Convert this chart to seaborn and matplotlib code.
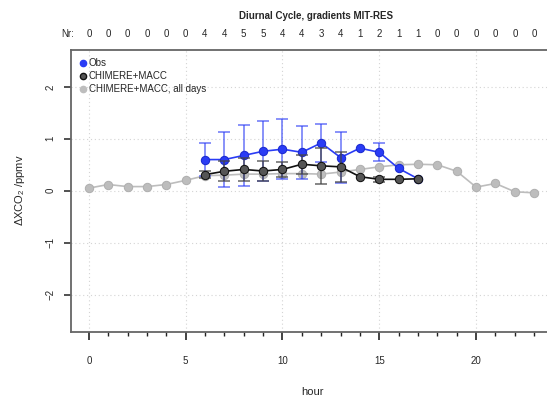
import numpy as np
import pandas as pd
import matplotlib
matplotlib.use("Agg")
import matplotlib.pyplot as plt
import matplotlib.transforms as mtransforms
from matplotlib.lines import Line2D
import seaborn as sns

# ---- data ----
hours_all = list(range(24))
nr_counts = [0, 0, 0, 0, 0, 0, 4, 4, 5, 5, 4, 4, 3, 4, 1, 2, 1, 1, 0, 0, 0, 0, 0, 0]
alldays_vals = [0.05, 0.12, 0.08, 0.08, 0.12, 0.20, 0.29, 0.30, 0.32, 0.32, 0.33, 0.33,
                0.32, 0.36, 0.41, 0.46, 0.50, 0.51, 0.50, 0.375, 0.07, 0.14, -0.02, -0.04]

hours_obs = list(range(6, 18))
obs_vals = [0.60, 0.60, 0.68, 0.76, 0.80, 0.74, 0.92, 0.64, 0.82, 0.74, 0.43, 0.23]
obs_err = [0.32, 0.53, 0.58, 0.58, 0.575, 0.51, 0.36, 0.50, 0.0, 0.17, 0.0, 0.0]

model_vals = [0.31, 0.375, 0.41, 0.38, 0.41, 0.51, 0.48, 0.46, 0.27, 0.22, 0.22, 0.23]
model_err = [0.065, 0.19, 0.22, 0.20, 0.14, 0.18, 0.35, 0.29, 0.0, 0.05, 0.0, 0.0]

series_names = ["Obs", "CHIMERE+MACC", "CHIMERE+MACC, all days"]
title = "Diurnal Cycle, gradients MIT-RES"
xlabel = "hour"
ylabel = r"$\Delta$XCO$_2$ /ppmv"

# ---- style ----
sns.set_style("white")
plt.rcParams["font.family"] = ["Liberation Sans", "DejaVu Sans"]
plt.rcParams["mathtext.fontset"] = "custom"
plt.rcParams["mathtext.rm"] = "Liberation Sans"
plt.rcParams["mathtext.it"] = "Liberation Sans"

fig = plt.figure(figsize=(5.47, 4.03), dpi=100)
ax = fig.add_axes([71 / 547, 1 - 332 / 403, (552 - 71) / 547, (332 - 50) / 403])

blue = "#2a3cf5"
gray = "#bdbdbd"

df_all = pd.DataFrame({"hour": hours_all, "val": alldays_vals})
df_obs = pd.DataFrame({"hour": hours_obs, "val": obs_vals, "err": obs_err})
df_mod = pd.DataFrame({"hour": hours_obs, "val": model_vals, "err": model_err})

# grid
for gx in [0, 5, 10, 15, 20]:
    ax.axvline(gx, color="#d4d4d4", lw=0.8, ls=(0, (1, 2.5)), zorder=0)
for gy in [-2, -1, 0, 1, 2]:
    ax.axhline(gy, color="#d4d4d4", lw=0.8, ls=(0, (1, 2.5)), zorder=0)

# all days
sns.lineplot(data=df_all, x="hour", y="val", ax=ax, color=gray, lw=1.2,
             marker="o", markersize=6, markerfacecolor=gray, markeredgecolor="#b0b0b0",
             zorder=2, legend=False)

# obs
m = df_obs["err"] > 0
ax.errorbar(df_obs["hour"][m], df_obs["val"][m], yerr=df_obs["err"][m], fmt="none",
            ecolor=blue, alpha=0.65, elinewidth=1.2, capsize=4, capthick=1.2, zorder=3)
sns.lineplot(data=df_obs, x="hour", y="val", ax=ax, color=blue, lw=1.2,
             marker="o", markersize=6, markerfacecolor=blue, markeredgecolor="#1a2ad0",
             zorder=4, legend=False)

# model
m2 = df_mod["err"] > 0
ax.errorbar(df_mod["hour"][m2], df_mod["val"][m2], yerr=df_mod["err"][m2], fmt="none",
            ecolor="#444444", alpha=0.75, elinewidth=1.2, capsize=4, capthick=1.2, zorder=5)
sns.lineplot(data=df_mod, x="hour", y="val", ax=ax, color="#111111", lw=1.2,
             marker="o", markersize=6, markerfacecolor="#555555", markeredgecolor="#111111",
             zorder=6, legend=False)

ax.set_xlim(-0.92, 23.92)
ax.set_ylim(-2.72, 2.71)

# ticks
ax.set_xticks([0, 5, 10, 15, 20])
ax.set_xticks(hours_all, minor=True)
ax.tick_params(axis="x", which="major", direction="out", length=6, width=1.2,
               pad=11, labelsize=7, color="#222222", bottom=True)
ax.tick_params(axis="x", which="minor", direction="out", length=3, width=1.0,
               color="#222222", bottom=True)
ax.set_yticks([-2, -1, 0, 1, 2])
ax.tick_params(axis="y", which="major", direction="out", length=5, width=1.2,
               pad=6, labelsize=7, color="#333333", left=True)
for lab in ax.get_yticklabels():
    lab.set_rotation(90)
    lab.set_va("center")

for s in ax.spines.values():
    s.set_color("#666666")
    s.set_linewidth(1.3)

ax.set_xlabel("")
ax.set_ylabel("")
fig.text(313 / 547, 1 - 392 / 403, xlabel, fontsize=8, ha="center", va="center")
fig.text(20 / 547, 1 - 190 / 403, ylabel, fontsize=8, ha="center", va="center",
         rotation=90)

# Nr row
trans = mtransforms.blended_transform_factory(ax.transData, fig.transFigure)
fig.text(68 / 547, 1 - 34 / 403, "Nr:", fontsize=7, ha="center", va="center")
for h, n in zip(hours_all, nr_counts):
    ax.text(h, 1 - 34 / 403, str(n), transform=trans, fontsize=7,
            ha="center", va="center", clip_on=False)

fig.text(316 / 547, 1 - 16 / 403, title, fontsize=7, fontweight="bold",
         ha="center", va="center")

# legend
handles = [
    Line2D([], [], ls="none", marker="o", markersize=4.5, markerfacecolor=blue, markeredgecolor=blue),
    Line2D([], [], ls="none", marker="o", markersize=4.5, markerfacecolor="#555555", markeredgecolor="#111111"),
    Line2D([], [], ls="none", marker="o", markersize=4.5, markerfacecolor=gray, markeredgecolor=gray),
]
ax.legend(handles, series_names, loc="upper left", frameon=False, fontsize=7,
          handletextpad=0.2, borderaxespad=0.35, labelspacing=0.3, handlelength=0.8,
          borderpad=0.5)

fig.savefig("out.png", dpi=100)
